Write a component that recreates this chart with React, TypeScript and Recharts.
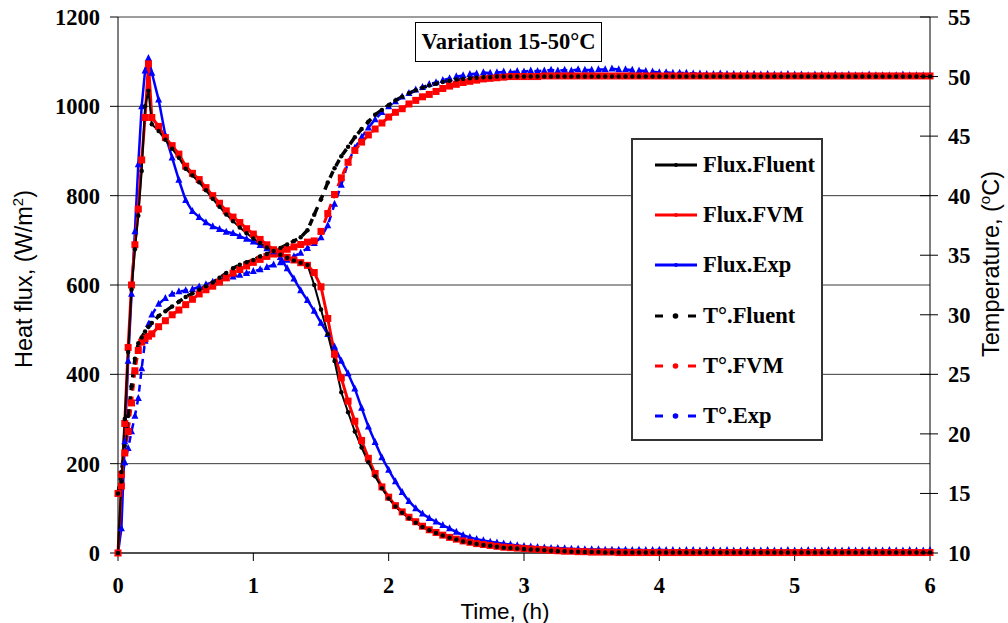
import React from 'react';
import { LineChart, Line, XAxis, YAxis, CartesianGrid, Legend } from 'recharts';

// time, hours
const TIME = [
  0, 0.025, 0.05, 0.075, 0.1, 0.125, 0.15, 0.175, 0.2, 0.225,
  0.25, 0.3, 0.35, 0.4, 0.45, 0.5, 0.55, 0.6, 0.65, 0.7,
  0.75, 0.8, 0.85, 0.9, 0.95, 1.0, 1.05, 1.1, 1.15, 1.2,
  1.25, 1.3, 1.35, 1.4, 1.45, 1.5, 1.55, 1.6, 1.65, 1.7,
  1.75, 1.8, 1.85, 1.9, 1.95, 2.0, 2.05, 2.1, 2.15, 2.2,
  2.25, 2.3, 2.35, 2.4, 2.45, 2.5, 2.55, 2.6, 2.65, 2.7,
  2.75, 2.8, 2.85, 2.9, 2.95, 3.0, 3.05, 3.1, 3.15, 3.2,
  3.25, 3.3, 3.35, 3.4, 3.45, 3.5, 3.55, 3.6, 3.65, 3.7,
  3.75, 3.8, 3.85, 3.9, 3.95, 4.0, 4.05, 4.1, 4.15, 4.2,
  4.25, 4.3, 4.35, 4.4, 4.45, 4.5, 4.55, 4.6, 4.65, 4.7,
  4.75, 4.8, 4.85, 4.9, 4.95, 5.0, 5.05, 5.1, 5.15, 5.2,
  5.25, 5.3, 5.35, 5.4, 5.45, 5.5, 5.55, 5.6, 5.65, 5.7,
  5.75, 5.8, 5.85, 5.9, 5.95, 6.0,
];

// heat flux, W/m2
const FLUX_FLUENT = [
  0, 160, 300, 450, 590, 680, 755, 855, 1000, 1035,
  960, 945, 925, 905, 885, 860, 845, 830, 812, 793,
  775, 758, 743, 729, 716, 704, 694, 684, 676, 668,
  661, 655, 650, 645, 600, 545, 490, 430, 360, 315,
  272, 236, 203, 172, 145, 122, 104, 90, 78, 68,
  58, 51, 45, 39, 34, 30, 26, 23, 20, 18,
  16, 14, 12, 11, 10, 9, 8, 7, 6, 5,
  4, 4, 3, 3, 2, 2, 2, 1, 1, 1,
  1, 1, 1, 1, 1, 1, 1, 1, 1, 1,
  1, 1, 1, 1, 1, 1, 1, 1, 1, 1,
  1, 1, 1, 1, 1, 1, 1, 1, 1, 1,
  1, 1, 1, 1, 1, 1, 1, 1, 1, 1,
  1, 1, 1, 1, 1, 1,
];

const FLUX_FVM = [
  0, 150, 290, 460, 600, 690, 770, 880, 975, 1095,
  975, 955, 930, 912, 893, 866, 850, 836, 818, 800,
  783, 766, 752, 740, 726, 714, 702, 690, 679, 670,
  662, 656, 650, 644, 628, 596, 525, 445, 392, 340,
  295, 252, 212, 178, 148, 125, 106, 92, 80, 70,
  60, 52, 46, 40, 35, 31, 27, 24, 21, 19,
  17, 15, 13, 12, 11, 10, 9, 8, 7, 6,
  5, 4, 4, 3, 3, 2, 2, 2, 2, 1,
  1, 1, 1, 1, 1, 1, 1, 1, 1, 1,
  1, 1, 1, 1, 1, 1, 1, 1, 1, 1,
  1, 1, 1, 1, 1, 1, 1, 1, 1, 1,
  1, 1, 1, 1, 1, 1, 1, 1, 1, 1,
  1, 1, 1, 1, 1, 1,
];

const FLUX_EXP = [
  0, 55, 250, 430, 580, 720, 870, 1000, 1080, 1108,
  1075, 1015, 935, 885, 835, 790, 765, 752, 740, 731,
  725, 719, 716, 709, 703, 697, 689, 682, 675, 662,
  637, 614, 588, 566, 542, 515, 490, 462, 430, 402,
  368, 325, 283, 248, 214, 186, 160, 136, 116, 100,
  88, 78, 70, 62, 55, 47, 40, 35, 31, 28,
  25, 23, 21, 19, 17, 15, 14, 13, 12, 11,
  11, 10, 9, 9, 8, 8, 8, 7, 7, 7,
  7, 6, 7, 6, 6, 7, 6, 6, 5, 6,
  6, 5, 6, 6, 5, 6, 5, 5, 6, 5,
  5, 6, 5, 5, 6, 5, 5, 6, 5, 5,
  6, 5, 5, 6, 5, 5, 6, 5, 5, 6,
  5, 5, 6, 5, 5, 6,
];

// temperature, degC
const TEMP_FLUENT = [
  15, 16.8, 19.0, 21.5, 24.0, 26.3, 27.6, 28.1, 28.6, 29.0,
  29.3, 29.9, 30.3, 30.7, 31.1, 31.5, 31.8, 32.1, 32.4, 32.7,
  33.1, 33.5, 33.9, 34.2, 34.4, 34.6, 34.9, 35.1, 35.3, 35.6,
  35.9, 36.2, 36.5, 37.1, 38.4, 39.7, 41.1, 42.3, 43.3, 44.1,
  44.9, 45.6, 46.2, 46.8, 47.2, 47.6, 48.0, 48.3, 48.6, 48.85,
  49.05, 49.25, 49.4, 49.55, 49.65, 49.75, 49.8, 49.85, 49.9, 49.95,
  49.95, 50, 50, 50, 50, 50, 50, 50, 50, 50,
  50, 50, 50, 50, 50, 50, 50, 50, 50, 50,
  50, 50, 50, 50, 50, 50, 50, 50, 50, 50,
  50, 50, 50, 50, 50, 50, 50, 50, 50, 50,
  50, 50, 50, 50, 50, 50, 50, 50, 50, 50,
  50, 50, 50, 50, 50, 50, 50, 50, 50, 50,
  50, 50, 50, 50, 50, 50,
];

const TEMP_FVM = [
  15, 16.6, 18.4, 20.2, 22.6, 25.3, 27.0, 27.7, 28.0, 28.2,
  28.4, 29.0, 29.5, 30.0, 30.4, 30.85, 31.3, 31.75, 32.1, 32.4,
  32.75, 33.1, 33.5, 33.8, 34.1, 34.4, 34.65, 34.9, 35.1, 35.3,
  35.5, 35.7, 35.9, 36.1, 36.2, 37.0, 38.5, 40.1, 41.5, 42.8,
  43.8, 44.5, 45.1, 45.6, 46.1, 46.6, 47.0, 47.3, 47.7, 48.0,
  48.3, 48.5, 48.75, 49.0, 49.2, 49.35, 49.5, 49.6, 49.7, 49.8,
  49.85, 49.9, 49.95, 50.0, 50.0, 50.0, 50.0, 50.0, 50.05, 50.05,
  50.05, 50.05, 50.05, 50.05, 50.05, 50.05, 50.05, 50.05, 50.05, 50.05,
  50.05, 50.05, 50.05, 50.05, 50.05, 50.05, 50.05, 50.05, 50.05, 50.05,
  50.05, 50.05, 50.05, 50.05, 50.05, 50.05, 50.05, 50.05, 50.05, 50.05,
  50.05, 50.05, 50.05, 50.05, 50.05, 50.05, 50.05, 50.05, 50.05, 50.05,
  50.05, 50.05, 50.05, 50.05, 50.05, 50.05, 50.05, 50.05, 50.05, 50.05,
  50.05, 50.05, 50.05, 50.05, 50.05, 50.05,
];

const TEMP_EXP = [
  15, 15.9, 17.6, 18.8, 20.2, 21.5, 23.0, 25.5, 27.8, 29.2,
  30.0, 30.9, 31.4, 31.75, 31.95, 32.05, 32.15, 32.35, 32.55, 32.75,
  32.95, 33.1, 33.2, 33.35, 33.5, 33.65, 33.8, 34.0, 34.2, 34.4,
  34.6, 34.9, 35.2, 35.6, 36.0, 36.5, 37.5, 39.3, 40.9, 42.8,
  44.0, 44.9, 45.7, 46.4, 47.0, 47.5, 47.9, 48.3, 48.6, 48.9,
  49.1, 49.35, 49.5, 49.7, 49.85, 50.0, 50.1, 50.2, 50.25, 50.35,
  50.3, 50.35, 50.4, 50.35, 50.45, 50.4, 50.5, 50.45, 50.5, 50.55,
  50.5, 50.55, 50.5, 50.6, 50.55, 50.55, 50.6, 50.6, 50.65, 50.6,
  50.6, 50.55, 50.5, 50.45, 50.4, 50.35, 50.35, 50.3, 50.3, 50.3,
  50.25, 50.25, 50.2, 50.2, 50.25, 50.2, 50.2, 50.15, 50.2, 50.2,
  50.15, 50.2, 50.15, 50.15, 50.2, 50.15, 50.15, 50.1, 50.15, 50.15,
  50.1, 50.15, 50.1, 50.15, 50.1, 50.1, 50.15, 50.1, 50.1, 50.1,
  50.1, 50.15, 50.1, 50.1, 50.1, 50.1,
];

const TIME_TICKS = [0, 1, 2, 3, 4, 5, 6];
const FLUX_TICKS = [0, 200, 400, 600, 800, 1000, 1200];
const TEMP_TICKS = [10, 15, 20, 25, 30, 35, 40, 45, 50, 55];

const data = TIME.map((t, i) => ({
  t,
  fluxFluent: FLUX_FLUENT[i],
  fluxFvm: FLUX_FVM[i],
  fluxExp: FLUX_EXP[i],
  tempFluent: TEMP_FLUENT[i],
  tempFvm: TEMP_FVM[i],
  tempExp: TEMP_EXP[i],
}));

const SERIF = '"Liberation Serif", "Times New Roman", serif';
const SANS = '"Liberation Sans", Arial, sans-serif';

type Marker = 'circle' | 'square' | 'triangle';
type Series = {
  key: string;
  name: string;
  color: string;
  marker: Marker;
  size: number;
  width: number;
  dashed: boolean;
  axis: 'flux' | 'temp';
};

const FLUENT: Series = { key: 'fluxFluent', name: 'Flux.Fluent', color: '#000000', marker: 'circle', size: 4.5, width: 2, dashed: false, axis: 'flux' };
const FVM: Series = { key: 'fluxFvm', name: 'Flux.FVM', color: '#ff0000', marker: 'square', size: 7, width: 3, dashed: false, axis: 'flux' };
const EXP: Series = { key: 'fluxExp', name: 'Flux.Exp', color: '#0000ff', marker: 'triangle', size: 7, width: 2.5, dashed: false, axis: 'flux' };
const T_FLUENT: Series = { key: 'tempFluent', name: 'T°.Fluent', color: '#000000', marker: 'circle', size: 4.5, width: 3.5, dashed: true, axis: 'temp' };
const T_FVM: Series = { key: 'tempFvm', name: 'T°.FVM', color: '#ff0000', marker: 'square', size: 7, width: 3, dashed: true, axis: 'temp' };
const T_EXP: Series = { key: 'tempExp', name: 'T°.Exp', color: '#0000ff', marker: 'triangle', size: 7, width: 2.5, dashed: true, axis: 'temp' };

const LEGEND_ORDER = [FLUENT, FVM, EXP, T_FLUENT, T_FVM, T_EXP];
const DRAW_ORDER = [T_EXP, T_FVM, T_FLUENT, EXP, FVM, FLUENT];

function MarkerShape({ cx, cy, s, size }: { cx: number; cy: number; s: Series; size: number }) {
  if (s.marker === 'square') {
    return <rect x={cx - size / 2} y={cy - size / 2} width={size} height={size} fill={s.color} />;
  }
  if (s.marker === 'triangle') {
    return (
      <polygon
        points={`${cx},${cy - size * 0.6} ${cx - size / 2},${cy + size * 0.4} ${cx + size / 2},${cy + size * 0.4}`}
        fill={s.color}
      />
    );
  }
  return <circle cx={cx} cy={cy} r={size / 2} fill={s.color} />;
}

const makeDot = (s: Series) => (props: any) => {
  const { cx, cy, index } = props;
  if (cx == null || cy == null) return <g key={`${s.key}-${index}`} />;
  return (
    <g key={`${s.key}-${index}`}>
      <MarkerShape cx={cx} cy={cy} s={s} size={s.size} />
    </g>
  );
};

const LegendBox = () => (
  <div
    style={{
      width: 192,
      height: 303,
      border: '2px solid #333',
      boxSizing: 'border-box',
      background: '#fff',
      position: 'relative',
    }}
  >
    {LEGEND_ORDER.map((s, i) => (
      <div
        key={s.key}
        style={{
          position: 'absolute',
          left: 22,
          top: 11 + i * 50.2,
          height: 28,
          display: 'flex',
          alignItems: 'center',
        }}
      >
        <svg width={42} height={12} style={{ display: 'block' }}>
          {s.dashed ? (
            <>
              <line x1={0} x2={8} y1={6} y2={6} stroke={s.color} strokeWidth={3} />
              <line x1={33} x2={41} y1={6} y2={6} stroke={s.color} strokeWidth={3} />
              <circle cx={20.5} cy={6} r={2.8} fill={s.color} />
            </>
          ) : (
            <>
              <line x1={0} x2={42} y1={6} y2={6} stroke={s.color} strokeWidth={3} />
              <circle cx={21} cy={6} r={2} fill={s.color} />
            </>
          )}
        </svg>
        <span
          style={{
            marginLeft: 6,
            fontFamily: SERIF,
            fontWeight: 'bold',
            fontSize: 22.5,
            color: '#000',
            whiteSpace: 'nowrap',
          }}
        >
          {s.name}
        </span>
      </div>
    ))}
  </div>
);

const FluxTitle = () => (
  <text
    transform="translate(32, 279) rotate(-90)"
    textAnchor="middle"
    fill="#000"
    style={{ fontFamily: SANS, fontSize: 23.5 }}
  >
    Heat flux, (W/m<tspan dy={-9} fontSize={15}>2</tspan>
    <tspan dy={9}>)</tspan>
  </text>
);

const TempTitle = () => (
  <text
    transform="translate(999, 264) rotate(-90)"
    textAnchor="middle"
    fill="#000"
    style={{ fontFamily: SANS, fontSize: 23.5 }}
  >
    Temperature, (<tspan dy={-9} fontSize={15}>o</tspan>
    <tspan dy={9}>C)</tspan>
  </text>
);

const TimeTitle = () => (
  <text x={505} y={619} textAnchor="middle" fill="#000" style={{ fontFamily: SANS, fontSize: 22.5 }}>
    Time, (h)
  </text>
);

const tickStyle = { fontFamily: SERIF, fontWeight: 'bold' as const, fontSize: 22.5, fill: '#000' };

const TempTick = (props: any) => {
  const { x, y, payload } = props;
  return (
    <g>
      <line x1={x - 28} x2={x - 10} y1={y} y2={y} stroke="#000" strokeWidth={1} />
      <text x={x} y={y} dy="0.355em" textAnchor="start" style={tickStyle}>
        {payload.value}
      </text>
    </g>
  );
};

export default function App() {
  return (
    <div style={{ position: 'absolute', left: 0, top: 0, width: 1008, height: 623, background: '#fff' }}>
      <LineChart width={1008} height={623} data={data} margin={{ top: 17, right: 28, bottom: 30, left: 58 }}>
        <CartesianGrid yAxisId="flux" vertical={false} stroke="#3a3a3a" strokeWidth={1} />
        <XAxis
          dataKey="t"
          type="number"
          domain={[0, 6]}
          ticks={TIME_TICKS}
          height={40}
          tickSize={8}
          tickMargin={16}
          axisLine={{ stroke: '#000' }}
          tickLine={{ stroke: '#000' }}
          tick={tickStyle}
          label={<TimeTitle />}
        />
        <YAxis
          yAxisId="flux"
          domain={[0, 1200]}
          ticks={FLUX_TICKS}
          width={60}
          tickSize={8}
          tickMargin={10}
          axisLine={{ stroke: '#000' }}
          tickLine={{ stroke: '#000' }}
          tick={tickStyle}
          label={<FluxTitle />}
        />
        <YAxis
          yAxisId="temp"
          orientation="right"
          domain={[10, 55]}
          ticks={TEMP_TICKS}
          width={50}
          tickSize={8}
          tickMargin={10}
          axisLine={{ stroke: '#000' }}
          tickLine={false}
          tick={<TempTick />}
          label={<TempTitle />}
        />
        <Legend
          layout="vertical"
          align="center"
          verticalAlign="middle"
          wrapperStyle={{ left: 631, top: 138, width: 192, height: 303 }}
          content={() => <LegendBox />}
        />
        {DRAW_ORDER.map((s) => (
          <Line
            key={s.key}
            yAxisId={s.axis}
            dataKey={s.key}
            name={s.name}
            type="linear"
            stroke={s.color}
            strokeWidth={s.width}
            strokeDasharray={s.dashed ? '7 6' : undefined}
            dot={makeDot(s)}
            activeDot={false}
            isAnimationActive={false}
          />
        ))}
      </LineChart>
      <div
        style={{
          position: 'absolute',
          left: 415,
          top: 22,
          width: 187,
          height: 40,
          border: '1px solid #000',
          boxSizing: 'border-box',
          background: '#fff',
          display: 'flex',
          alignItems: 'center',
          justifyContent: 'center',
          fontFamily: SERIF,
          fontWeight: 'bold',
          fontSize: 22.5,
          color: '#000',
          whiteSpace: 'nowrap',
        }}
      >
        Variation 15-50°C
      </div>
    </div>
  );
}
